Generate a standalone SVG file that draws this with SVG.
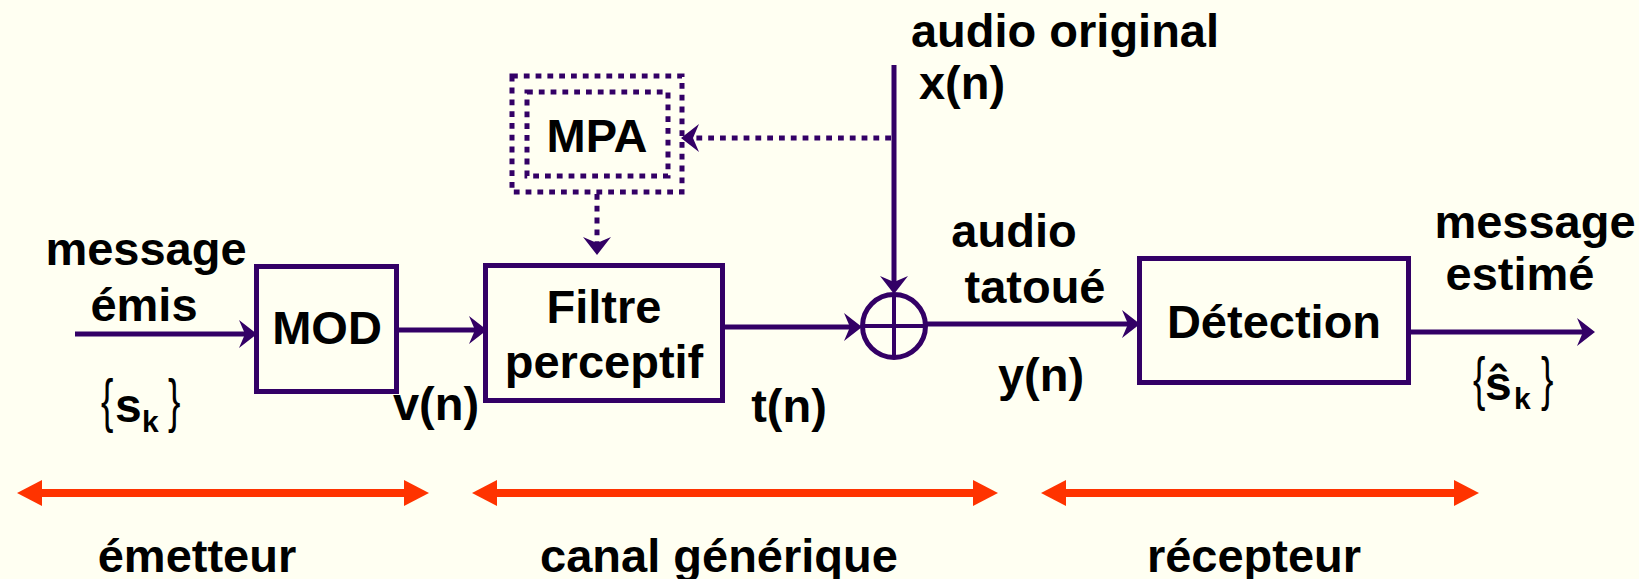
<svg xmlns="http://www.w3.org/2000/svg" width="1639" height="579" viewBox="0 0 1639 579">
  <style>
    .lbl { font-family: "Liberation Sans", Arial, sans-serif; font-weight: bold; font-size: 47px; fill: #000; }
    .sym { font-family: "Liberation Sans", Arial, sans-serif; font-weight: bold; fill: #000; }
    .brace { font-family: "Liberation Sans", Arial, sans-serif; font-weight: normal; font-size: 60px; fill: #000; }
    .box { fill: none; stroke: #330066; stroke-width: 5; }
    .dotbox { fill: none; stroke: #330066; stroke-width: 5; stroke-dasharray: 5.8 6; }
    .wire { fill: none; stroke: #330066; stroke-width: 5; marker-end: url(#ah); }
    .dotwire { fill: none; stroke: #330066; stroke-width: 5; stroke-dasharray: 5.8 6; marker-end: url(#ah); }
    .span { fill: none; stroke: #FF3300; stroke-width: 8; marker-start: url(#rh); marker-end: url(#rh); }
  </style>
  <defs>
    <marker id="ah" viewBox="-20 -16 22 32" refX="-6" refY="0" markerWidth="22" markerHeight="32" markerUnits="userSpaceOnUse" orient="auto">
      <path d="M0,0 L-18,-14 L-12,0 L-18,14 Z" fill="#330066"/>
    </marker>
    <marker id="rh" viewBox="-27 -15 29 30" refX="-20" refY="0" markerWidth="29" markerHeight="30" markerUnits="userSpaceOnUse" orient="auto-start-reverse">
      <path d="M0,0 L-25,-13 L-25,13 Z" fill="#FF3300"/>
    </marker>
  </defs>

  <rect x="0" y="0" width="1639" height="579" fill="#FFFFF2"/>

  <!-- signal paths -->
  <g id="connectors">
    <path class="wire" d="M75,334 H251"/>
    <path class="wire" d="M399,330 H481"/>
    <path class="wire" d="M725,327 H856"/>
    <path class="wire" d="M894,65 V288"/>
    <path class="wire" d="M927,324 H1134"/>
    <path class="wire" d="M1411,332 H1589"/>
    <path class="dotwire" d="M891,138 H687"/>
    <path class="dotwire" d="M597,194 V249"/>
  </g>

  <g id="mod">
    <rect class="box" x="256.5" y="266.5" width="140" height="125"/>
    <text class="lbl" x="327" y="344" text-anchor="middle">MOD</text>
  </g>

  <g id="filtre">
    <rect class="box" x="485.5" y="265.5" width="237" height="135"/>
    <text class="lbl" x="604" y="323" text-anchor="middle">Filtre</text>
    <text class="lbl" x="604" y="378" text-anchor="middle">perceptif</text>
  </g>

  <g id="mpa">
    <rect class="dotbox" x="512" y="76" width="170" height="116"/>
    <rect class="dotbox" x="527" y="92" width="141" height="84"/>
    <text class="lbl" x="597" y="152" text-anchor="middle">MPA</text>
  </g>

  <g id="somme">
    <circle cx="894" cy="326" r="31.5" fill="none" stroke="#330066" stroke-width="5"/>
    <path d="M894,294.5 V357.5 M862.5,326 H925.5" stroke="#330066" stroke-width="4" fill="none"/>
  </g>

  <g id="detection">
    <rect class="box" x="1139.5" y="258.5" width="269" height="124"/>
    <text class="lbl" x="1274" y="338" text-anchor="middle">Détection</text>
  </g>

  <!-- signal names -->
  <g id="labels">
    <text class="lbl" x="146" y="265" text-anchor="middle">message</text>
    <text class="lbl" x="144" y="321" text-anchor="middle">émis</text>
    <text class="lbl" x="436" y="420" text-anchor="middle">v(n)</text>
    <text class="lbl" x="789" y="422" text-anchor="middle">t(n)</text>
    <text class="lbl" x="1065" y="47" text-anchor="middle">audio original</text>
    <text class="lbl" x="962" y="99" text-anchor="middle">x(n)</text>
    <text class="lbl" x="1014" y="247" text-anchor="middle">audio</text>
    <text class="lbl" x="1035" y="303" text-anchor="middle">tatoué</text>
    <text class="lbl" x="1041" y="391" text-anchor="middle">y(n)</text>
    <text class="lbl" x="1535" y="238" text-anchor="middle">message</text>
    <text class="lbl" x="1520" y="290" text-anchor="middle">estimé</text>
  </g>

  <g id="sk">
    <text class="brace" transform="translate(101,421) scale(0.62,1)">{</text>
    <text class="sym" x="115" y="422" font-size="48">s</text>
    <text class="sym" x="142" y="432" font-size="30">k</text>
    <text class="brace" transform="translate(168,421) scale(0.62,1)">}</text>
  </g>

  <g id="sk-hat">
    <text class="brace" transform="translate(1473,399) scale(0.62,1)">{</text>
    <text class="sym" x="1485" y="400" font-size="48">ŝ</text>
    <text class="sym" x="1514" y="409" font-size="30">k</text>
    <text class="brace" transform="translate(1541,399) scale(0.62,1)">}</text>
  </g>

  <!-- stages -->
  <g id="emetteur">
    <path class="span" d="M37,493 H409"/>
    <text class="lbl" x="197" y="572" text-anchor="middle">émetteur</text>
  </g>
  <g id="canal">
    <path class="span" d="M492,493 H978"/>
    <text class="lbl" x="719" y="572" text-anchor="middle">canal générique</text>
  </g>
  <g id="recepteur">
    <path class="span" d="M1061,493 H1459"/>
    <text class="lbl" x="1254" y="572" text-anchor="middle">récepteur</text>
  </g>
</svg>
